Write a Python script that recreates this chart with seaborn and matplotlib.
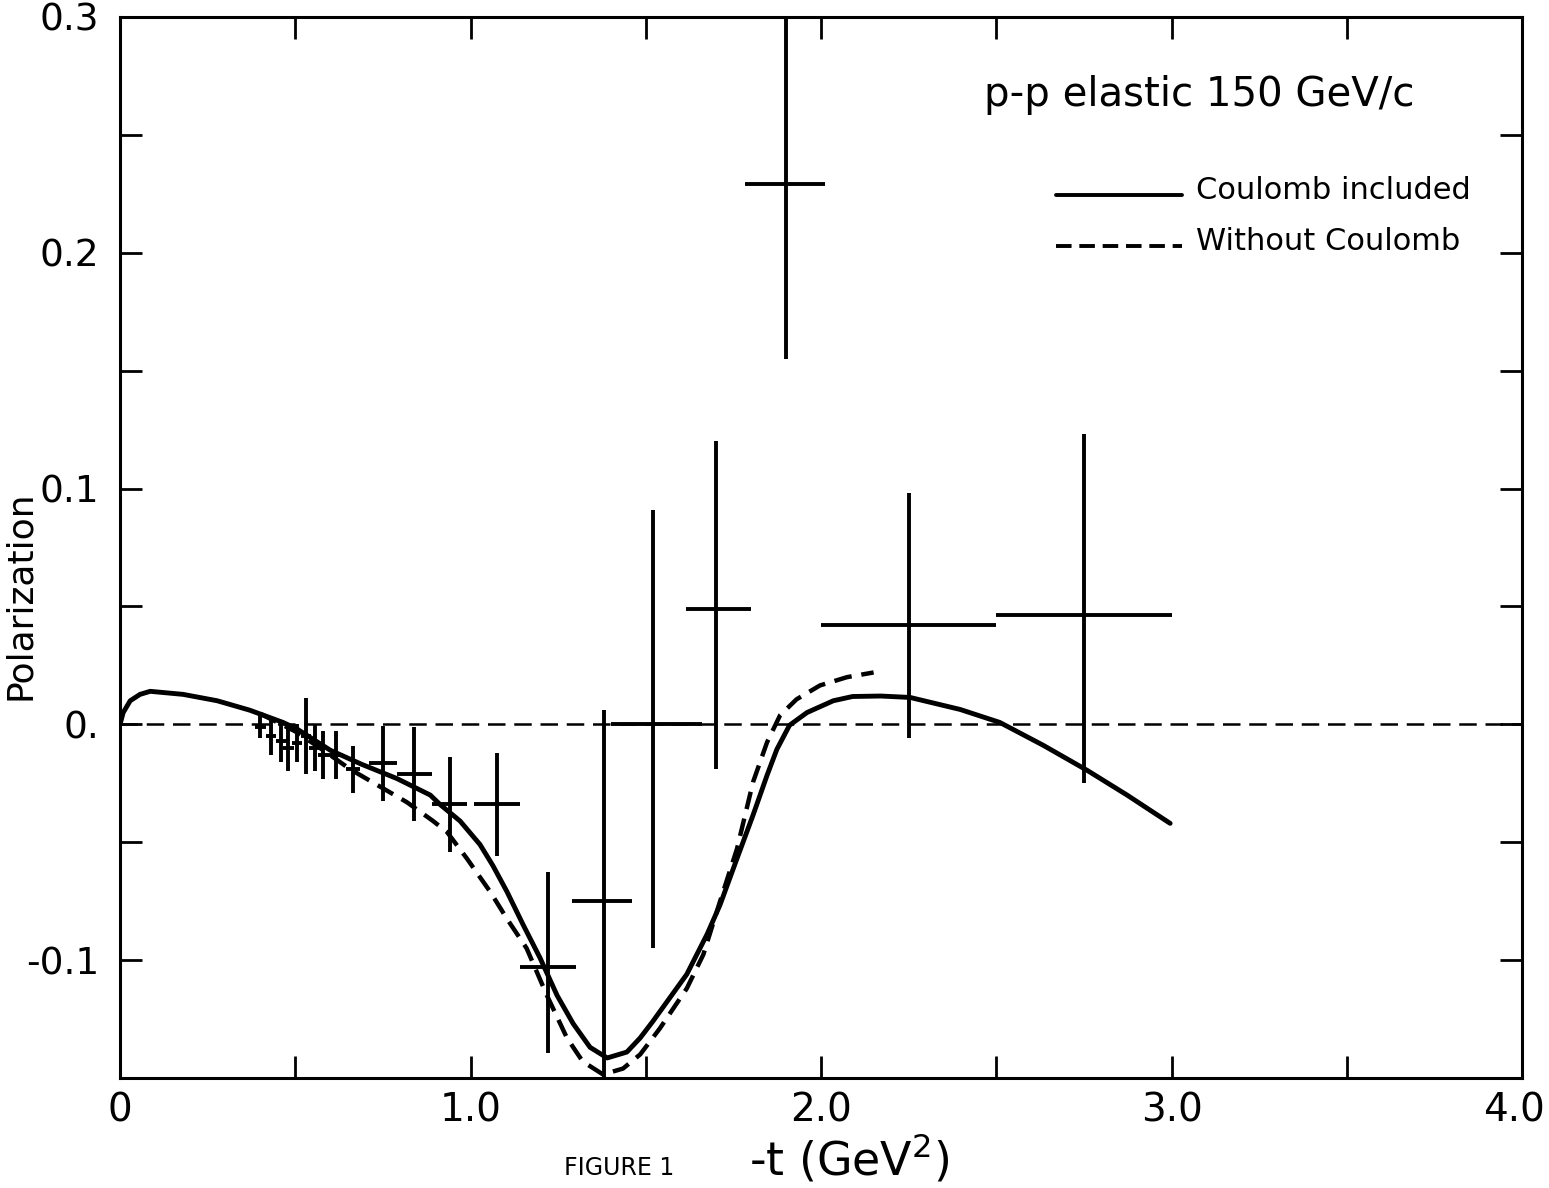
import matplotlib
matplotlib.use("Agg")
import matplotlib.pyplot as plt
import matplotlib.transforms as mtransforms
import seaborn as sns
import numpy as np
import pandas as pd

# ---- data ----
pt_t    = [0.40, 0.43, 0.46, 0.48, 0.505, 0.53, 0.555, 0.58, 0.615, 0.665, 0.75, 0.84, 0.94, 1.075,
           1.22, 1.38, 1.52, 1.70, 1.90, 2.25, 2.75]
pt_pol  = [-0.001, -0.005, -0.007, -0.010, -0.008, -0.005, -0.010, -0.013, -0.013, -0.019, -0.0165, -0.021, -0.034, -0.034,
           -0.103, -0.075, 0.000, 0.049, 0.229, 0.042, 0.0465]
pt_ylo  = [0.005, 0.008, 0.009, 0.010, 0.008, 0.016, 0.010, 0.010, 0.010, 0.010, 0.016, 0.020, 0.020, 0.022,
           0.0365, 0.085, 0.095, 0.068, 0.074, 0.048, 0.0715]
pt_yhi  = [0.005, 0.008, 0.009, 0.010, 0.008, 0.016, 0.010, 0.010, 0.010, 0.010, 0.016, 0.020, 0.020, 0.022,
           0.0404, 0.081, 0.091, 0.071, 0.080, 0.056, 0.0765]
pt_xlo  = [0.015, 0.015, 0.015, 0.015, 0.015, 0.015, 0.015, 0.015, 0.02, 0.02, 0.04, 0.05, 0.05, 0.065,
           0.08, 0.09, 0.12, 0.085, 0.117, 0.25, 0.25]
pt_xhi  = [0.015, 0.015, 0.015, 0.015, 0.015, 0.015, 0.015, 0.015, 0.02, 0.02, 0.04, 0.05, 0.05, 0.065,
           0.08, 0.08, 0.14, 0.10, 0.11, 0.25, 0.25]

coul_t   = [0.0, 0.009, 0.029, 0.057, 0.086, 0.18, 0.277, 0.37, 0.465, 0.505, 0.60, 0.69, 0.79, 0.885, 0.913, 0.97,
            1.027, 1.064, 1.104, 1.15, 1.198, 1.247, 1.293, 1.341, 1.39, 1.446, 1.484, 1.52, 1.617, 1.675, 1.712,
            1.76, 1.806, 1.846, 1.874, 1.91, 1.96, 2.035, 2.09, 2.17, 2.254, 2.397, 2.51, 2.634, 2.759, 2.873, 2.996]
coul_pol = [0.0, 0.005, 0.010, 0.0127, 0.014, 0.0127, 0.010, 0.006, 0.0008, -0.002, -0.011, -0.017, -0.023, -0.030, -0.034, -0.041,
            -0.051, -0.060, -0.071, -0.085, -0.099, -0.115, -0.127, -0.137, -0.1415, -0.139, -0.133, -0.126, -0.106, -0.089, -0.0765,
            -0.057, -0.0385, -0.0216, -0.0106, -0.0004, 0.005, 0.010, 0.0118, 0.012, 0.0114, 0.0063, 0.0008, -0.0089, -0.0195, -0.030, -0.042]

noc_t   = [0.40, 0.50, 0.58, 0.656, 0.737, 0.818, 0.893, 0.933, 0.99, 1.056, 1.104, 1.16, 1.218, 1.275, 1.32, 1.378,
           1.435, 1.484, 1.54, 1.617, 1.664, 1.712, 1.76, 1.806, 1.846, 1.883, 1.93, 1.997, 2.074, 2.15]
noc_pol = [0.0045, -0.003, -0.011, -0.019, -0.026, -0.033, -0.041, -0.0457, -0.057, -0.071, -0.0825, -0.095, -0.115, -0.133, -0.143, -0.1485,
           -0.146, -0.140, -0.129, -0.112, -0.0977, -0.075, -0.0529, -0.0245, -0.0076, 0.0038, 0.0106, 0.0165, 0.020, 0.022]

xticks = [0, 0.5, 1.0, 1.5, 2.0, 2.5, 3.0, 3.5, 4.0]
xticklabels = ["0", "", "1.0", "", "2.0", "", "3.0", "", "4.0"]
yticks = [-0.15, -0.1, -0.05, 0.0, 0.05, 0.1, 0.15, 0.2, 0.25, 0.3]
yticklabels = ["", "-0.1", "", "0.", "", "0.1", "", "0.2", "", "0.3"]

sns.set_theme(style="white")
plt.rcParams['font.family'] = ['DejaVu Sans']
plt.rcParams['text.color'] = 'black'
plt.rcParams['axes.labelcolor'] = 'black'

fig = plt.figure(figsize=(15.49, 11.88), dpi=100)
ax = fig.add_axes([0.0775, 0.0926, 0.9051, 0.8931])

df_c = pd.DataFrame({"t": coul_t, "P": coul_pol})
df_n = pd.DataFrame({"t": noc_t, "P": noc_pol})

ax.axhline(0, color="black", lw=1.8, dashes=(7, 3.5), zorder=1)
sns.lineplot(data=df_c, x="t", y="P", ax=ax, color="black", lw=3.5, sort=False, zorder=3)
l2 = sns.lineplot(data=df_n, x="t", y="P", ax=ax, color="black", lw=3.2, sort=False, zorder=3)
l2.lines[-1].set_dashes((4, 2.2))

ax.errorbar(pt_t, pt_pol, yerr=[pt_ylo, pt_yhi], xerr=[pt_xlo, pt_xhi], fmt="none",
            ecolor="black", elinewidth=2.8, capsize=0, zorder=4)

ax.set_xlim(0, 4.0)
ax.set_ylim(-0.15, 0.3)
ax.set_xticks(xticks)
ax.set_xticklabels(xticklabels, fontsize=28)
ax.set_yticks(yticks)
ax.set_yticklabels(yticklabels, fontsize=27)
ax.tick_params(direction="in", length=16, width=2, top=True, right=True, bottom=True, left=True,
               colors="black")
ax.tick_params(axis="x", pad=10)
ax.tick_params(axis="y", pad=15)
for s in ax.spines.values():
    s.set_linewidth(2.2)
    s.set_color("black")

# nudge the last x tick label so it stays inside the figure
last = ax.get_xticklabels()[-1]
last.set_transform(last.get_transform() + mtransforms.ScaledTranslation(-8 / 100, 0, fig.dpi_scale_trans))

ax.set_xlabel("")
ax.set_ylabel("Polarization", fontsize=26)
ax.yaxis.set_label_coords(-0.059, 0.455)

fig.text(0.548, 0.011, r"-t (GeV$^2$)", fontsize=33, ha="center", va="baseline")
fig.text(0.40, 0.011, "FIGURE 1", fontsize=17, ha="center", va="baseline")

ax.text(3.08, 0.267, "p-p elastic 150 GeV/c", fontsize=29, ha="center", va="center")
ax.plot([2.67, 3.03], [0.2245, 0.2245], color="black", lw=2.8)
ax.text(3.07, 0.2262, "Coulomb included", fontsize=22, ha="left", va="center")
ax.plot([2.67, 3.03], [0.2030, 0.2030], color="black", lw=2.8, dashes=(4, 2))
ax.text(3.07, 0.2047, "Without Coulomb", fontsize=22, ha="left", va="center")

fig.savefig("out.png", dpi=100)
